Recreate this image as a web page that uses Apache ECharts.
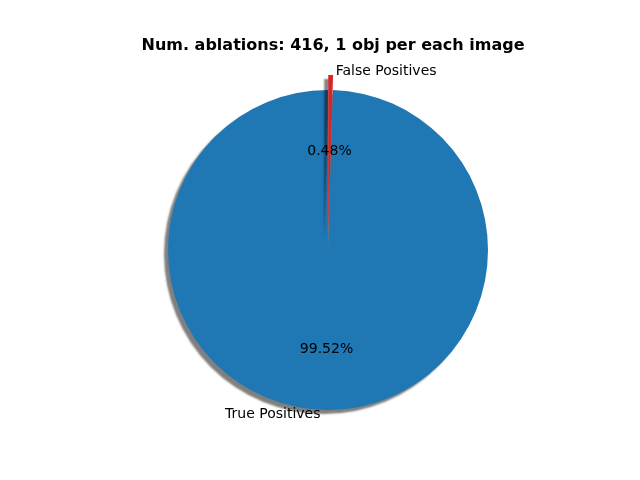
<!DOCTYPE html>
<html>
<head>
<meta charset="utf-8">
<script src="https://cdn.jsdelivr.net/npm/echarts@6/dist/echarts.min.js"></script>
<style>html,body{margin:0;padding:0;background:#fff}#c{width:640px;height:480px}</style>
</head>
<body>
<div id="c"></div>
<script>
const labels = ['True Positives', 'False Positives', 'False Negatives'];
const values = [414, 2, 0];
const colors = ['#1f77b4', '#d62728', '#ff7f0e'];
const exploded = [false, true, false];

const chart = echarts.init(document.getElementById('c'));
const total = values.reduce((a, b) => a + b, 0);
const items = labels.map((name, i) => ({
    name: name,
    value: values[i],
    selected: exploded[i],
    itemStyle: { color: colors[i] }
}));

chart.setOption({
    animation: false,
    title: {
        text: 'Num. ablations: 416, 1 obj per each image',
        left: 328, top: 33, textAlign: 'center',
        textStyle: { fontFamily: 'DejaVu Sans', fontSize: 16, fontWeight: 'bold', color: '#000' }
    },
    series: [
        {
            type: 'pie',
            center: [328, 250],
            radius: [0, 160],
            startAngle: 90,
            clockwise: false,
            minAngle: 0,
            avoidLabelOverlap: false,
            selectedMode: 'multiple',
            selectedOffset: 15,
            stillShowZeroSum: true,
            itemStyle: { shadowColor: 'rgba(0,0,0,0.5)', shadowBlur: 2, shadowOffsetX: -4, shadowOffsetY: 4 },
            label: {
                position: 'outside', fontFamily: 'DejaVu Sans', fontSize: 14, color: '#000',
                formatter: '{b}'
            },
            labelLine: { show: false, length: 4, length2: 0 },
            emphasis: { disabled: true },
            data: items
        },
        {
            type: 'pie',
            center: [328, 250],
            radius: [32, 160],
            startAngle: 90,
            clockwise: false,
            minAngle: 0,
            avoidLabelOverlap: false,
            silent: true,
            itemStyle: { color: 'rgba(0,0,0,0)' },
            label: {
                position: 'inside', fontFamily: 'DejaVu Sans', fontSize: 14, color: '#000',
                formatter: p => (p.value / total * 100).toFixed(2) + '%'
            },
            labelLine: { show: false },
            data: labels.map((name, i) => ({ name: name, value: values[i] }))
        }
    ]
});
</script>
</body>
</html>
